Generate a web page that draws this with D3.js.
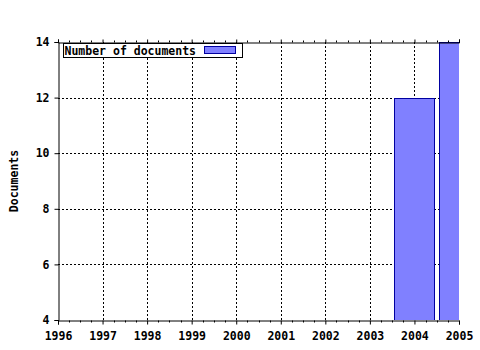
<!DOCTYPE html>
<html>
<head>
<meta charset="utf-8">
<script src="https://cdn.jsdelivr.net/npm/d3@7"></script>
<style>
  body { margin: 0; background: #fff; }
  text { font-family: "DejaVu Sans Mono", "Liberation Mono", monospace; font-weight: bold; font-size: 11.5px; fill: #000; }
</style>
</head>
<body>
<div id="chart"></div>
<script>
// data
const years = [1996, 1997, 1998, 1999, 2000, 2001, 2002, 2003, 2004, 2005];
const documents = [0, 0, 0, 0, 0, 0, 0, 0, 12, 14];
const yTicks = [4, 6, 8, 10, 12, 14];
const seriesName = "Number of documents";

const width = 480, height = 350;
const margin = {top: 42, right: 21, bottom: 30, left: 58};

let svg = d3.select("#chart").append("svg")
    .attr("width", width)
    .attr("height", height);

let x = d3.scaleLinear()
    .domain([years[0], years[years.length - 1]])
    .range([margin.left, width - margin.right]);
let y = d3.scaleLinear()
    .domain([4, 14])
    .range([height - margin.bottom, margin.top]);

let step = x(years[1]) - x(years[0]);
let barW = step * 0.9;

svg.append("clipPath").attr("id", "plot")
    .append("rect")
    .attr("x", margin.left).attr("y", margin.top)
    .attr("width", width - margin.left - margin.right)
    .attr("height", height - margin.top - margin.bottom);

// dotted grid
let grid = svg.append("g").attr("stroke", "#000").attr("stroke-dasharray", "2,2").attr("shape-rendering", "crispEdges");
grid.selectAll(".gx").data(years.slice(1, -1)).enter().append("line")
    .attr("x1", d => Math.round(x(d)) + 0.5).attr("x2", d => Math.round(x(d)) + 0.5)
    .attr("y1", y(4)).attr("y2", y(14));
grid.selectAll(".gy").data(yTicks.slice(1, -1)).enter().append("line")
    .attr("x1", x(1996)).attr("x2", x(2005))
    .attr("y1", d => Math.round(y(d)) + 0.5).attr("y2", d => Math.round(y(d)) + 0.5);

// bars
svg.append("g").attr("clip-path", "url(#plot)")
    .selectAll("rect").data(years.map((yr, i) => ({yr: yr, v: documents[i]})).filter(d => d.v > 4))
    .enter().append("rect")
    .attr("x", d => Math.round(x(d.yr) - barW / 2) + 0.5)
    .attr("y", d => Math.round(y(d.v)) + 0.5)
    .attr("width", Math.round(barW))
    .attr("height", d => Math.round(y(4) - y(d.v)))
    .attr("fill", "#8080ff")
    .attr("stroke", "#0000a0")
    .attr("stroke-width", 1);

// axes
let minor = [];
years.slice(0, -1).forEach(yr => { for (let k = 1; k < 4; k++) minor.push(yr + k / 4); });

let xAxis = d3.axisBottom(x).tickValues(years).tickFormat(d3.format("d")).tickSize(4).tickPadding(7);
let gx = svg.append("g").attr("transform", "translate(0," + (y(4) + 0.5) + ")").call(xAxis);
gx.append("g").selectAll("line").data(minor).enter().append("line")
    .attr("x1", d => Math.round(x(d)) + 0.5).attr("x2", d => Math.round(x(d)) + 0.5)
    .attr("y1", 0).attr("y2", 2).attr("stroke", "#000");

let gtop = svg.append("g").attr("transform", "translate(0," + (y(14) + 0.5) + ")")
    .call(d3.axisTop(x).tickValues(years).tickFormat("").tickSize(3));
gtop.append("g").selectAll("line").data(minor).enter().append("line")
    .attr("x1", d => Math.round(x(d)) + 0.5).attr("x2", d => Math.round(x(d)) + 0.5)
    .attr("y1", 0).attr("y2", -2).attr("stroke", "#000");

let gy = svg.append("g").attr("transform", "translate(" + (x(1996) + 0.5) + ",0)")
    .call(d3.axisLeft(y).tickValues(yTicks).tickSize(4).tickPadding(5));

[gx, gtop, gy].forEach(g => {
    g.select(".domain").attr("stroke", "#000");
    g.selectAll(".tick line").attr("stroke", "#000");
    g.selectAll("text").attr("font-family", null).attr("font-size", null);
});

// y label
svg.append("text")
    .attr("transform", "translate(18," + (margin.top + (height - margin.top - margin.bottom) / 2) + ") rotate(-90)")
    .attr("text-anchor", "middle")
    .text("Documents");

// legend
let leg = svg.append("g").attr("transform", "translate(63.5,43.5)");
leg.append("rect").attr("width", 179).attr("height", 14)
    .attr("fill", "#fff").attr("stroke", "#000");
leg.append("text").attr("x", 1).attr("y", 11).text(seriesName);
leg.append("rect").attr("x", 141).attr("y", 3).attr("width", 31).attr("height", 7)
    .attr("fill", "#8080ff").attr("stroke", "#0000a0");
</script>
</body>
</html>
